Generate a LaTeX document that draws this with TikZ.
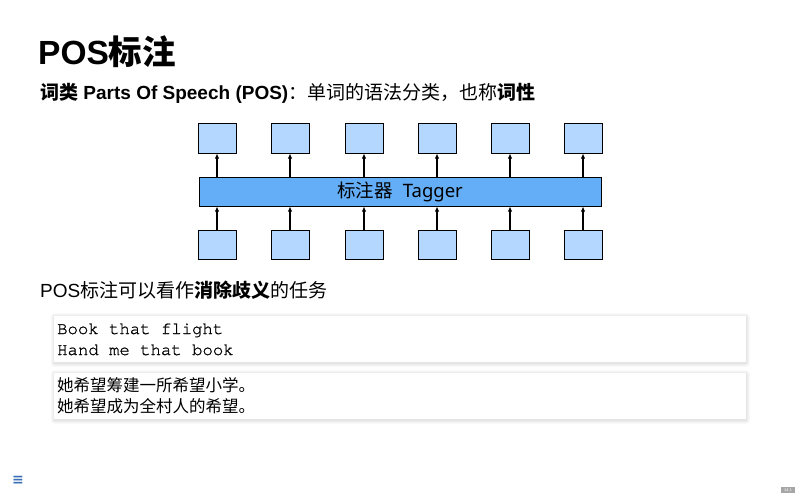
\documentclass[tikz,border=0pt]{standalone}
\usepackage{fontspec}
\setmainfont{Liberation Sans}
\setmonofont[Ligatures={NoCommon}, FakeBold=1]{TeX Gyre Cursor}
\newfontfamily\cjk{Noto Sans CJK SC}
\newfontfamily\tagfont{Noto Sans}
\newfontfamily\symfont{DejaVu Sans}
\usetikzlibrary{arrows.meta}
\newcommand\zh[1]{{\cjk #1}}
\definecolor{cellblue}{HTML}{B3D7FF}
\definecolor{barblue}{HTML}{63AEF7}
\definecolor{iconblue}{HTML}{3A6FB8}
\tikzset{
  cell/.style={draw=black, line width=1pt, fill=cellblue, minimum width=38pt, minimum height=29pt, inner sep=0pt},
  bar/.style={draw=black, line width=1pt, fill=barblue, minimum width=402pt, minimum height=29pt, inner sep=0pt},
  flow/.style={-{Latex[length=5pt,width=4.5pt]}, line width=1.3pt},
  textline/.style={anchor=base west, inner sep=0pt},
}
% white card with a soft shadow around it
\newcommand\card[4]{%
  \foreach \s/\o in {4/0.018,3/0.022,2/0.026,1/0.03} {
    \fill[black, opacity=\o, rounded corners=\s pt] (#1-\s+0.5,#2-\s+1) rectangle (#3+\s,#4+\s+1);
  }
  \fill[white] (#1,#2) rectangle (#3,#4);
}
\begin{document}
\begin{tikzpicture}[x=1pt, y=-1pt]
\useasboundingbox (0,0) rectangle (800,500);
\fill[white] (0,0) rectangle (800,500);

% title and definition
\node[textline, font=\fontsize{33.5}{38}\selectfont\bfseries] (title) at (38,65) {POS\zh{标注}};
\node[textline, font=\fontsize{19}{22}\selectfont] (def) at (40,100)
  {\zh{\bfseries 词类} \textbf{Parts Of Speech (POS)}\zh{：单词的语法分类，也称\bfseries 词性}};

% tagger with inputs and outputs
\node[bar] (tagger) at (400,191.5) {\tagfont\fontsize{18.5}{22}\selectfont\zh{标注器}\hspace{0.55em}Tagger};
\foreach \i/\x in {1/217,2/290,3/364,4/437,5/510,6/583} {
  \node[cell] (out\i) at (\x,138.5) {};
  \node[cell] (in\i) at (\x,244.5) {};
  \draw[flow] (in\i.north) -- (in\i.north |- tagger.south);
  \draw[flow] (out\i.south |- tagger.north) -- (out\i.south);
}

% disambiguation
\node[textline, font=\fontsize{19}{24}\selectfont] (task) at (40,297)
  {POS\zh{标注可以看作{\bfseries 消除歧义}的任务}};

\card{54}{316}{746}{362}
\node[textline, font=\fontsize{17.3}{20}\selectfont\ttfamily] (en1) at (57,334) {Book that flight};
\node[textline, font=\fontsize{17.3}{20}\selectfont\ttfamily] (en2) at (57,355) {Hand me that book};

\card{54}{373}{746}{419}
\node[textline, font=\fontsize{16.5}{20}\selectfont] (zh1) at (57,391) {\zh{她希望筹建一所希望小学。}};
\node[textline, font=\fontsize{16.5}{20}\selectfont] (zh2) at (57,412) {\zh{她希望成为全村人的希望。}};

% navigation marks
\node[text=iconblue, font=\symfont\fontsize{14}{16}\selectfont\bfseries, inner sep=0pt] (menu) at (18,480) {≡};
\node[fill=gray!70, text=white, font=\fontsize{4}{5}\selectfont, inner sep=1.2pt, minimum width=14pt] (page) at (788,490) {14.1};
\end{tikzpicture}
\end{document}
